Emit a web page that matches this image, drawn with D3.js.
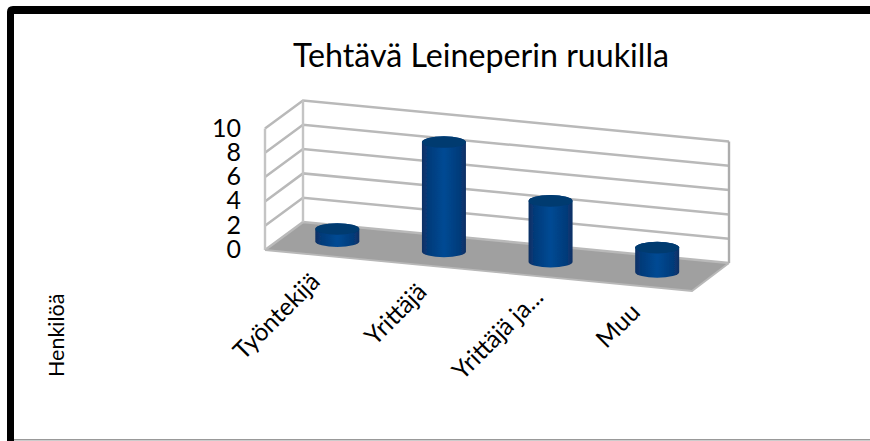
<!DOCTYPE html>
<html><head><meta charset="utf-8">
<script src="https://cdn.jsdelivr.net/npm/d3@7"></script>
<style>html,body{margin:0;padding:0;background:#fff}svg{display:block}text{font-family:Lato,"Open Sans",sans-serif;fill:#000}</style>
</head><body><svg id="c" width="870" height="441"></svg>
<script>
const categories = ["Työntekijä", "Yrittäjä", "Yrittäjä ja...", "Muu"];
const values = [1, 9, 5, 2];
const ticks = [0, 2, 4, 6, 8, 10];
const chartTitle = "Tehtävä Leineperin ruukilla";
const axisTitle = "Henkilöä";

const svg = d3.select("#c");
const defs = svg.append("defs");
const g = defs.append("linearGradient").attr("id","cyl");
[[0,"#0b2f63"],[0.12,"#063a78"],[0.5,"#004a94"],[0.88,"#063a78"],[1,"#0b2f63"]].forEach(s=>g.append("stop").attr("offset",s[0]).attr("stop-color",s[1]));
defs.append("filter").attr("id","soft").append("feGaussianBlur").attr("stdDeviation",0.45);

// frame
svg.append("path").attr("d","M7,441V12Q7,6 13,6H870V14H14V441Z").attr("fill","#000");
svg.append("rect").attr("x",14).attr("y",439).attr("width",856).attr("height",1.5).attr("fill","#999");

const root = svg.append("g").attr("filter","url(#soft)");
const frontLeft=[265,250], backLeft=[303,222], backRight=[729,263], frontRight=[692,291];
const y = d3.scaleLinear().domain([0,10]).range([0,121.5]);
const lerp=(a,b,t)=>[a[0]+(b[0]-a[0])*t,a[1]+(b[1]-a[1])*t];
const line=d3.line();

// floor
root.append("path").attr("d",line([frontLeft,backLeft,backRight,frontRight])+"Z").attr("fill","#a0a0a0");

// walls and grid
ticks.forEach(t=>{
  const h=y(t);
  const pts=[[frontLeft[0],frontLeft[1]-h],[backLeft[0],backLeft[1]-h],[backRight[0],backRight[1]-h]];
  root.append("path").attr("d",line(pts)).attr("fill","none").attr("stroke","#b9b9b9").attr("stroke-width",2.5);
});
[frontLeft,backLeft,backRight].forEach(p=>{
  root.append("line").attr("x1",p[0]).attr("x2",p[0]).attr("y1",p[1]).attr("y2",p[1]-y(10)).attr("stroke",p===backRight?"#adadad":"#c4c4c4").attr("stroke-width",2.4);
});
root.append("path").attr("d",line([frontLeft,frontRight,backRight])).attr("fill","none").attr("stroke","#b8b8b8").attr("stroke-width",1.8);

// cylinders along the middle of the floor
const midA=lerp(frontLeft,backLeft,0.5), midB=lerp(frontRight,backRight,0.5);
const band=d3.scaleBand().domain(categories).range([0,1]);
const rx=22, ry=5.8;
categories.forEach((c,i)=>{
  const t=band(c)+band.bandwidth()/2;
  const [cx,cy]=lerp(midA,midB,t);
  const h=y(values[i]), top=cy-h;
  root.append("path")
    .attr("d",`M${cx-rx},${top}V${cy}A${rx},${ry} 0 0 0 ${cx+rx},${cy}V${top}A${rx},${ry} 0 0 0 ${cx-rx},${top}Z`)
    .attr("fill","url(#cyl)");
  root.append("ellipse").attr("cx",cx).attr("cy",top).attr("rx",rx).attr("ry",ry).attr("fill","#033a70");
});

// text
svg.append("text").attr("x",481).attr("y",67).attr("text-anchor","middle").attr("font-size",32.2).text(chartTitle);
ticks.forEach(t=>{
  svg.append("text").attr("x",241).attr("text-anchor","end").attr("y",frontLeft[1]-y(t)+8).attr("font-size",25).text(t);
});
svg.append("text").attr("transform","translate(64,377) rotate(-90)").attr("font-size",21.5).text(axisTitle);
categories.forEach((c,i)=>{
  const t=band(c)+band.bandwidth()/2;
  const p=lerp(frontLeft,frontRight,t);
  const extra=c.endsWith("...")?10:0;
  svg.append("text").attr("transform",`translate(${p[0]+3+extra},${p[1]+28-extra/2}) rotate(-45)`).attr("text-anchor","end").attr("font-size",24.5).text(c);
});
</script></body></html>
